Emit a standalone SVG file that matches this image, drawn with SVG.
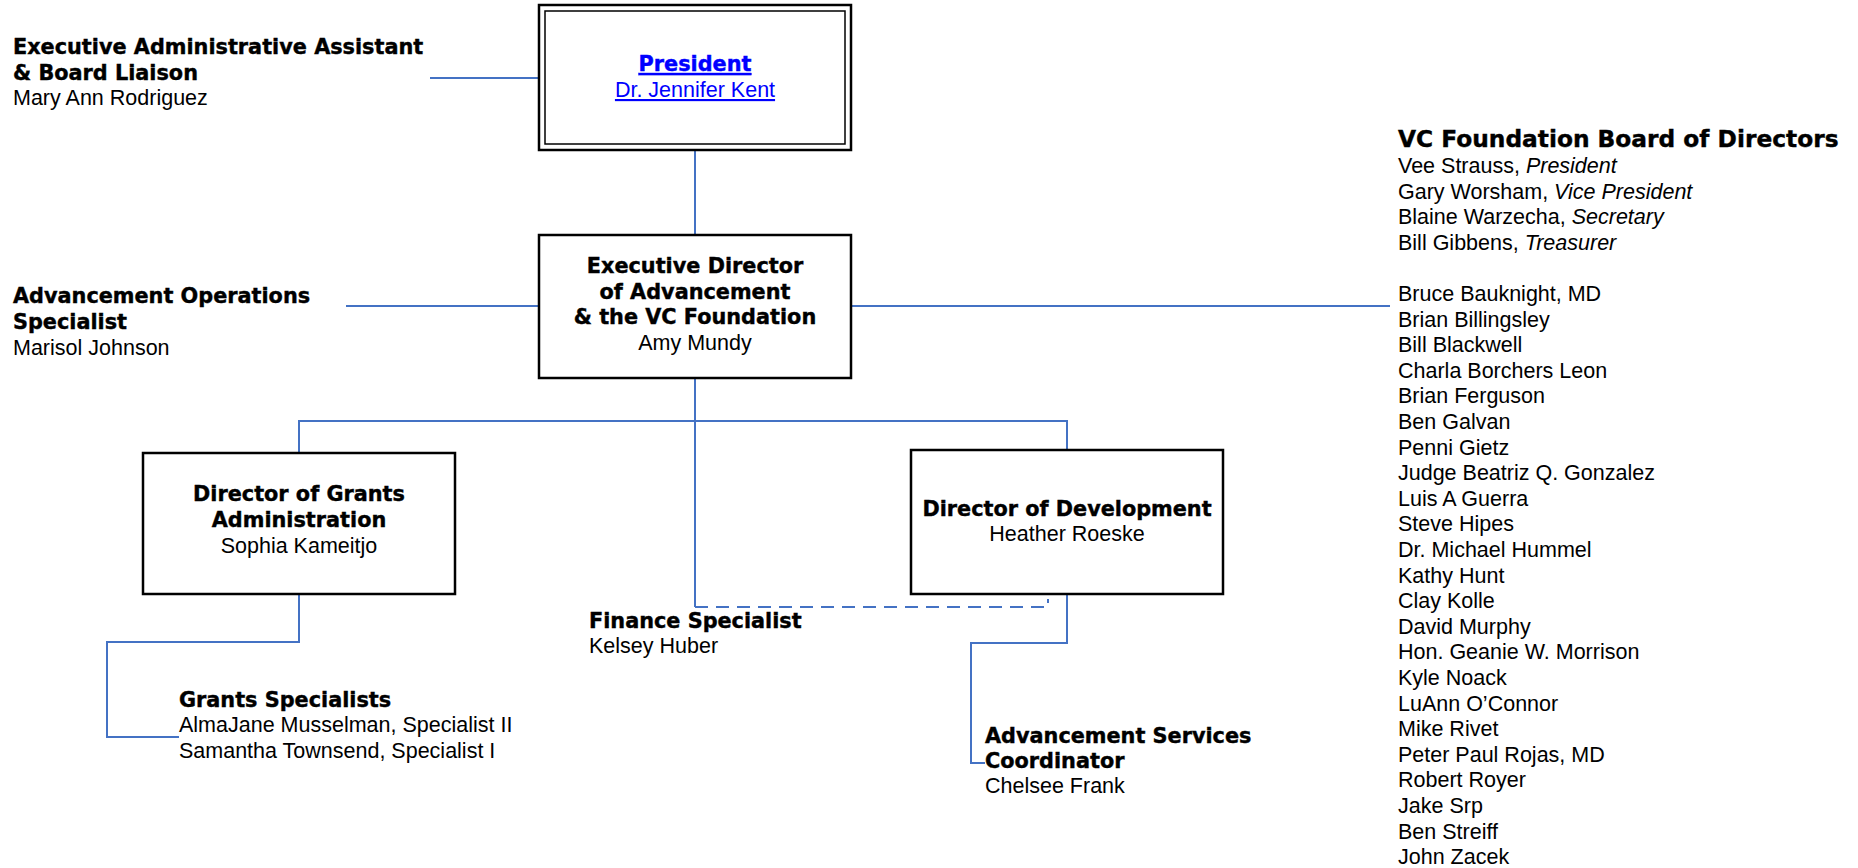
<svg xmlns="http://www.w3.org/2000/svg" width="1858" height="868" viewBox="0 0 1858 868">
<style>
.b{font-family:"DejaVu Sans","Liberation Sans",sans-serif;font-weight:bold;font-size:20.8px;fill:#000;stroke:#000;stroke-width:0.4}
.r{font-family:"Liberation Sans",Arial,sans-serif;font-size:21.5px;fill:#000}
.i{font-style:italic}
.c{text-anchor:middle}
.box{fill:#fff;stroke:#000;stroke-width:2.5}
.con{fill:none;stroke:#4472C4;stroke-width:2}
.dash{stroke-dasharray:13 8}
.link{fill:#0000FF;text-decoration:underline}
.b.link{stroke:#0000FF}
</style>
<rect width="1858" height="868" fill="#fff"/>
<g id="connectors">
<path class="con" d="M430 78H539"/>
<path class="con" d="M695 150V235"/>
<path class="con" d="M346 306H539"/>
<path class="con" d="M851 306H1390"/>
<path class="con" d="M695 378V607"/>
<path class="con" d="M299 453V421H1067V450"/>
<path class="con dash" d="M695 607H1048V599"/>
<path class="con" d="M299 594V642H107V737H179"/>
<path class="con" d="M1067 594V643H971V763H985"/>
</g>
<g id="exec-admin">
<text class="b" x="13" y="54">Executive Administrative Assistant</text>
<text class="b" x="13" y="80">&amp; Board Liaison</text>
<text class="r" x="13" y="105">Mary Ann Rodriguez</text>
</g>
<g id="president">
<rect x="539" y="5" width="312" height="145" fill="#fff" stroke="#000" stroke-width="2.5"/>
<rect x="545" y="11" width="300" height="133" fill="none" stroke="#000" stroke-width="1.5"/>
<text class="b c link" x="695" y="71">President</text>
<text class="r c link" x="695" y="97">Dr. Jennifer Kent</text>
</g>
<g id="exec-director">
<rect class="box" x="539" y="235" width="312" height="143"/>
<text class="b c" x="695" y="273">Executive Director</text>
<text class="b c" x="695" y="299">of Advancement</text>
<text class="b c" x="695" y="324">&amp; the VC Foundation</text>
<text class="r c" x="695" y="350">Amy Mundy</text>
</g>
<g id="adv-ops">
<text class="b" x="13" y="303">Advancement Operations</text>
<text class="b" x="13" y="329">Specialist</text>
<text class="r" x="13" y="355">Marisol Johnson</text>
</g>
<g id="grants-director">
<rect class="box" x="143" y="453" width="312" height="141"/>
<text class="b c" x="299" y="501">Director of Grants</text>
<text class="b c" x="299" y="527">Administration</text>
<text class="r c" x="299" y="553">Sophia Kameitjo</text>
</g>
<g id="dev-director">
<rect class="box" x="911" y="450" width="312" height="144"/>
<text class="b c" x="1067" y="516">Director of Development</text>
<text class="r c" x="1067" y="541">Heather Roeske</text>
</g>
<g id="finance">
<text class="b" x="589" y="628">Finance Specialist</text>
<text class="r" x="589" y="653">Kelsey Huber</text>
</g>
<g id="grants-specialists">
<text class="b" x="179" y="707">Grants Specialists</text>
<text class="r" x="179" y="732">AlmaJane Musselman, Specialist II</text>
<text class="r" x="179" y="758">Samantha Townsend, Specialist I</text>
</g>
<g id="adv-services">
<text class="b" x="985" y="743">Advancement Services</text>
<text class="b" x="985" y="768">Coordinator</text>
<text class="r" x="985" y="793">Chelsee Frank</text>
</g>
<g id="board">
<text class="b" x="1398" y="147" style="font-size:23.3px">VC Foundation Board of Directors</text>
<text class="r" x="1398" y="173">Vee Strauss, <tspan class="i">President</tspan></text>
<text class="r" x="1398" y="198.6">Gary Worsham, <tspan class="i">Vice President</tspan></text>
<text class="r" x="1398" y="224.2">Blaine Warzecha, <tspan class="i">Secretary</tspan></text>
<text class="r" x="1398" y="249.8">Bill Gibbens, <tspan class="i">Treasurer</tspan></text>
<text class="r" x="1398" y="301">Bruce Bauknight, MD</text>
<text class="r" x="1398" y="326.6">Brian Billingsley</text>
<text class="r" x="1398" y="352.2">Bill Blackwell</text>
<text class="r" x="1398" y="377.8">Charla Borchers Leon</text>
<text class="r" x="1398" y="403.4">Brian Ferguson</text>
<text class="r" x="1398" y="429">Ben Galvan</text>
<text class="r" x="1398" y="454.6">Penni Gietz</text>
<text class="r" x="1398" y="480.2">Judge Beatriz Q. Gonzalez</text>
<text class="r" x="1398" y="505.8">Luis A Guerra</text>
<text class="r" x="1398" y="531.4">Steve Hipes</text>
<text class="r" x="1398" y="557">Dr. Michael Hummel</text>
<text class="r" x="1398" y="582.6">Kathy Hunt</text>
<text class="r" x="1398" y="608.2">Clay Kolle</text>
<text class="r" x="1398" y="633.8">David Murphy</text>
<text class="r" x="1398" y="659.4">Hon. Geanie W. Morrison</text>
<text class="r" x="1398" y="685">Kyle Noack</text>
<text class="r" x="1398" y="710.6">LuAnn O’Connor</text>
<text class="r" x="1398" y="736.2">Mike Rivet</text>
<text class="r" x="1398" y="761.8">Peter Paul Rojas, MD</text>
<text class="r" x="1398" y="787.4">Robert Royer</text>
<text class="r" x="1398" y="813">Jake Srp</text>
<text class="r" x="1398" y="838.6">Ben Streiff</text>
<text class="r" x="1398" y="864.2">John Zacek</text>
</g>
</svg>
